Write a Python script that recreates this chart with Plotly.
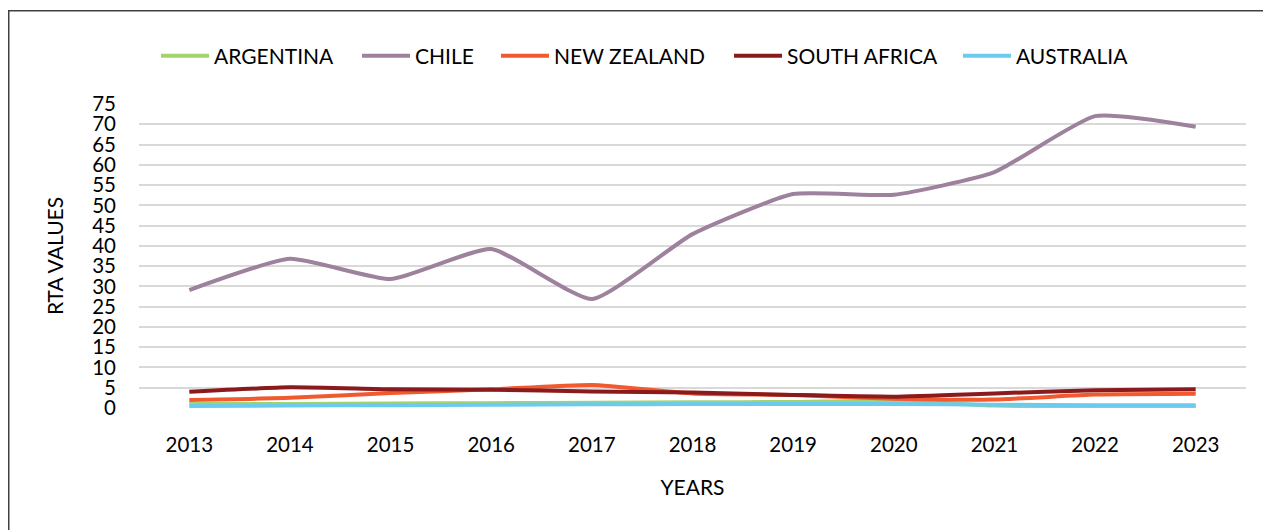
import plotly.graph_objects as go

years = ["2013", "2014", "2015", "2016", "2017", "2018", "2019", "2020", "2021", "2022", "2023"]
argentina = [1.0, 1.0, 1.1, 1.2, 1.3, 1.4, 1.5, 1.8, 0.6, 0.3, 0.3]
chile = [29.1, 36.8, 31.8, 39.2, 26.9, 42.9, 52.8, 52.6, 58.2, 72.0, 69.4]
new_zealand = [2.0, 2.5, 3.7, 4.6, 5.7, 3.6, 3.2, 2.3, 2.1, 3.3, 3.5]
south_africa = [4.0, 5.1, 4.6, 4.5, 4.1, 3.8, 3.2, 2.8, 3.6, 4.4, 4.6]
australia = [0.5, 0.6, 0.7, 0.8, 0.9, 1.0, 1.0, 1.0, 0.8, 0.7, 0.7]

series = [
    ("ARGENTINA", argentina, "#A3D36B"),
    ("CHILE", chile, "#9D819D"),
    ("NEW ZEALAND", new_zealand, "#F15A2F"),
    ("SOUTH AFRICA", south_africa, "#8B1A1C"),
    ("AUSTRALIA", australia, "#6CCAEE"),
]
y_ticks = list(range(0, 80, 5))

FONT = "Lato, Carlito, Calibri, sans-serif"

W, H = 1263, 530
# plot area in screen pixels
PX0, PX1, PY0, PY1 = 139, 1246, 104, 408
L, R = PX0, W - PX1
T, B = PY0, H - PY1
pw, ph = PX1 - PX0, PY1 - PY0

def sx(px):
    return (px - PX0) / pw

def sy(py):
    return (PY1 - py) / ph

legend_starts = [161, 362, 501, 734, 963]

fig = go.Figure()
legend_layout = {}
for i, (name, vals, color) in enumerate(series):
    key = "legend" if i == 0 else f"legend{i + 1}"
    fig.add_trace(go.Scatter(
        x=years, y=vals, name=name, mode="lines",
        line=dict(color=color, width=4, shape="spline", smoothing=0.5),
        legend=key,
    ))
    legend_layout[key] = dict(
        orientation="h", x=sx(legend_starts[i] - 5), xanchor="left",
        y=sy(56), yanchor="middle",
        font=dict(family=FONT, size=21, color="#000000"),
        itemwidth=48, bgcolor="rgba(0,0,0,0)", borderwidth=0,
    )

fig.update_layout(
    width=W, height=H,
    margin=dict(l=L, r=R, t=T, b=B, pad=0),
    paper_bgcolor="white", plot_bgcolor="white",
    font=dict(family=FONT, size=20, color="#000000"),
    showlegend=True,
    xaxis=dict(
        type="category", range=[-0.5, 10.5],
        showgrid=False, showline=False, zeroline=False,
        ticks="", ticklabelstandoff=22,
        tickfont=dict(family=FONT, size=20.5),
        title=dict(text="YEARS", font=dict(family=FONT, size=21), standoff=25),
    ),
    yaxis=dict(
        range=[0, 75], tickvals=y_ticks,
        showgrid=True, gridcolor="#D9D9D9", gridwidth=1.5,
        zeroline=False, showline=False, ticks="",
        ticklabelstandoff=22,
        tickfont=dict(family=FONT, size=20.5),
        title=dict(text="RTA VALUES", font=dict(family=FONT, size=21), standoff=22),
    ),
    shapes=[dict(
        type="rect", xref="paper", yref="paper",
        x0=sx(8.75), x1=sx(1400),
        y0=sy(700), y1=sy(10.75),
        line=dict(color="#404040", width=1.5), fillcolor="rgba(0,0,0,0)",
        layer="below",
    )],
    **legend_layout,
)

fig.write_html(
    "out.html",
    config={"displayModeBar": False},
    post_script="document.body.style.margin='0';document.body.style.overflow='hidden';"
                "document.documentElement.style.overflow='hidden';",
)
